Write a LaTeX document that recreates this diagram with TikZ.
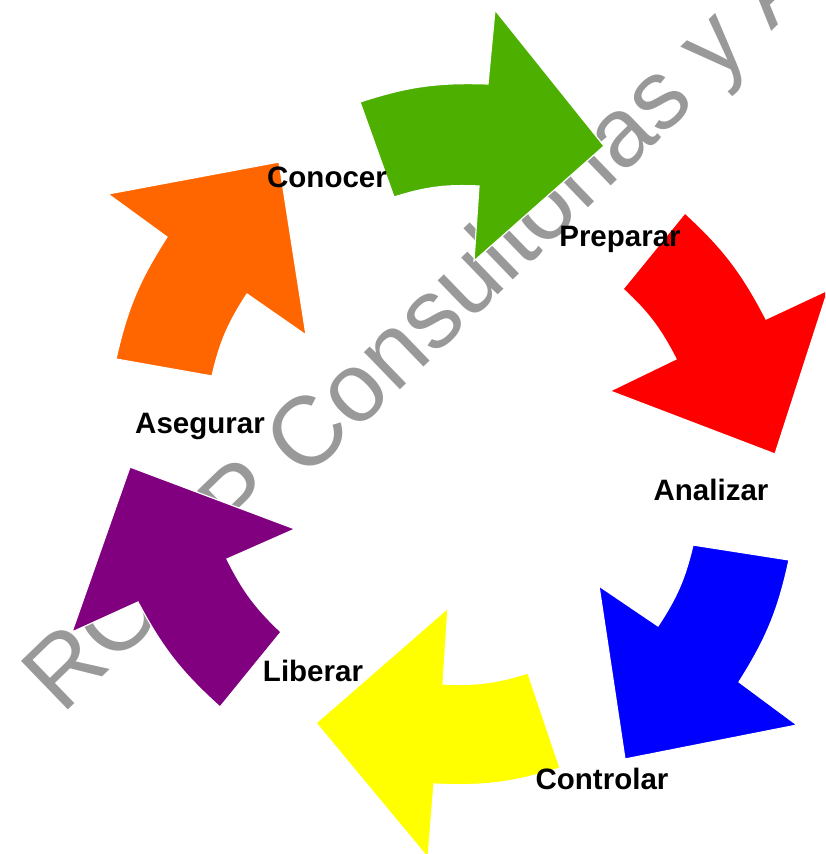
\documentclass[tikz,border=0pt]{standalone}
\usepackage{fontspec}
\setmainfont{Liberation Sans}
\usepackage{xcolor}
\usepackage{tikz}
\definecolor{cycgreen}{RGB}{77,175,0}
\definecolor{cycorange}{RGB}{255,102,0}
\definecolor{cycred}{RGB}{255,0,0}
\definecolor{cycblue}{RGB}{0,0,255}
\definecolor{cycyellow}{RGB}{255,255,0}
\definecolor{cycpurple}{RGB}{128,0,128}
\definecolor{markgray}{RGB}{153,153,153}

\begin{document}
\begin{tikzpicture}[x=1pt,y=-1pt,
  phase/.style={font=\fontsize{29.5}{34}\selectfont\bfseries, inner sep=0pt, anchor=base},
  wedge/.style={draw=white, line width=1.2pt, line join=miter}]
  \useasboundingbox (0,0) rectangle (825,854);
  \clip (0,0) rectangle (825,854);
  % watermark behind the arrows
  \node[markgray, rotate=44, anchor=base west, inner sep=0pt,
    font=\fontsize{98}{100}\selectfont] (mark) at (62,716)
    {RO\hspace{1em}P Consultorias y Asesorias};
  % the six arrows, clockwise
  \fill[wedge, fill=cycgreen] (360,102) to[bend left=10] (488,84) -- (495,10)
    -- (604,146) -- (474,261) -- (479,186) to[bend right=10] (394,197) -- cycle;
  \fill[wedge, fill=cycred] (685,213) to[bend left=10] (766,319) -- (828,290)
    -- (775,454) -- (610,391) -- (676,359) to[bend right=10] (623,289) -- cycle;
  \fill[wedge, fill=cycblue] (789,560) to[bend left=10] (739,682) -- (797,725)
    -- (625,759) -- (599,586) -- (658,626) to[bend right=10] (693,545) -- cycle;
  \fill[wedge, fill=cycyellow] (560,768) to[bend left=10] (434,784) -- (428,858)
    -- (316,723) -- (448,608) -- (443,684) to[bend right=10] (528,673) -- cycle;
  \fill[wedge, fill=cycpurple] (220,707) to[bend left=10] (138,602) -- (72,632)
    -- (130,467) -- (295,529) -- (227,559) to[bend right=10] (281,632) -- cycle;
  \fill[wedge, fill=cycorange] (116,359) to[bend left=10] (167,237) -- (108,194)
    -- (279,162) -- (306,335) -- (247,294) to[bend right=10] (212,376) -- cycle;
  % labels
  \node[phase] (conocer) at (327,187) {Conocer};
  \node[phase] (preparar) at (620,246) {Preparar};
  \node[phase] (analizar) at (711,500) {Analizar};
  \node[phase] (controlar) at (602,789) {Controlar};
  \node[phase] (liberar) at (313,681) {Liberar};
  \node[phase] (asegurar) at (200,433) {Asegurar};
\end{tikzpicture}
\end{document}
